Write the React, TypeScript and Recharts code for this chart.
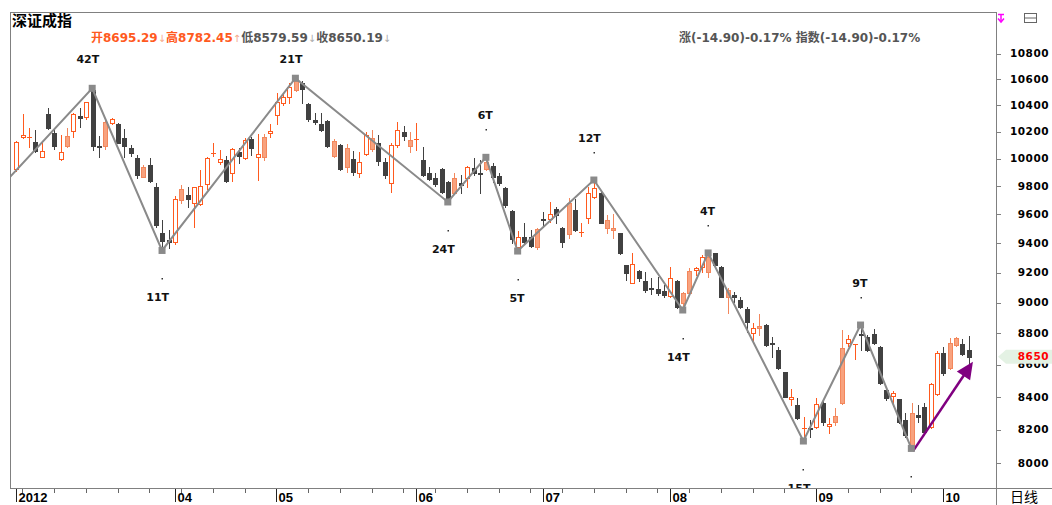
import React from 'react';
import { ComposedChart, Bar, Line, XAxis, YAxis, ReferenceLine } from 'recharts';

// ---------------- data ----------------
const opens = [
  9923, 10158, 10155, 10125, 10013, 10333, 10193, 9996, 10094, 10206,
  10320, 10308, 10516, 10096, 10094, 10263, 10258, 10151, 10077, 10004,
  9869, 9955, 9797, 9472, 9422, 9410, 9702, 9738, 9683, 9674,
  9816, 10040, 9976, 9991, 9894, 10052, 10004, 10143, 10016, 10011,
  10188, 10326, 10415, 10465, 10516, 10573, 10410, 10288, 10256, 10280,
  10021, 10101, 9942, 9996, 9894, 10035, 10069, 10113, 9979, 9821,
  10101, 10200, 10094, 10140, 9991, 9894, 9857, 9923, 9833, 9754,
  9821, 9857, 9930, 9898, 9923, 9947, 9874, 9791, 9626, 9372,
  9441, 9445, 9372, 9570, 9566, 9636, 9503, 9463, 9631, 9468,
  9573, 9721, 9754, 9503, 9491, 9468, 9251, 9132, 9212, 9145,
  9096, 9088, 9076, 9044, 9145, 8999, 9061, 9217, 9235, 9206,
  9331, 9240, 9039, 9050, 9017, 8956, 8799, 8832, 8853, 8735,
  8692, 8552, 8384, 8350, 8206, 8212, 8214, 8360, 8222, 8248,
  8360, 8735, 8726, 8795, 8774, 8793, 8709, 8441, 8404, 8384,
  8258, 8098, 8288, 8339, 8218, 8416, 8671, 8576, 8724, 8731,
  8695.29,
];
const highs = [
  10133, 10333, 10226, 10213, 10118, 10376, 10213, 10175, 10226, 10343,
  10376, 10427, 10529, 10170, 10293, 10301, 10263, 10220, 10101, 10028,
  9955, 10008, 9821, 9561, 9491, 9730, 9809, 9797, 9797, 9918,
  10011, 10113, 10064, 10021, 10077, 10077, 10151, 10158, 10183, 10183,
  10258, 10495, 10491, 10573, 10607, 10589, 10415, 10343, 10338, 10288,
  10143, 10108, 10108, 10059, 10052, 10200, 10213, 10175, 10004, 10113,
  10275, 10243, 10200, 10268, 10084, 9938, 9894, 9930, 9840, 9894,
  9882, 9947, 10004, 9991, 10010, 9969, 9896, 9798, 9631, 9486,
  9538, 9491, 9503, 9619, 9690, 9654, 9514, 9714, 9707, 9538,
  9797, 9845, 9761, 9596, 9603, 9472, 9251, 9331, 9217, 9206,
  9161, 9168, 9116, 9235, 9150, 9072, 9228, 9235, 9319, 9333,
  9333, 9244, 9094, 9072, 9035, 8972, 8864, 8925, 8860, 8778,
  8713, 8556, 8445, 8390, 8278, 8258, 8390, 8384, 8268, 8329,
  8821, 8788, 8731, 8853, 8788, 8826, 8718, 8445, 8437, 8388,
  8299, 8360, 8350, 8360, 8486, 8688, 8713, 8767, 8774, 8760,
  8782.45,
];
const lows = [
  9913, 10151, 10088, 10052, 10011, 10218, 10069, 9991, 10089, 10163,
  10233, 10295, 10064, 10011, 10074, 10258, 10113, 10011, 10021, 9857,
  9865, 9833, 9514, 9350, 9365, 9394, 9683, 9654, 9514, 9667,
  9778, 10021, 9962, 9833, 9840, 9967, 9996, 10028, 9845, 9991,
  10158, 10258, 10402, 10415, 10511, 10415, 10283, 10258, 10208, 10089,
  10011, 9918, 9906, 9882, 9869, 10028, 10059, 9955, 9857, 9761,
  10089, 10138, 10052, 10064, 9874, 9845, 9802, 9754, 9688, 9749,
  9754, 9797, 9882, 9754, 9918, 9833, 9809, 9654, 9404, 9346,
  9404, 9376, 9358, 9514, 9549, 9538, 9372, 9434, 9486, 9450,
  9542, 9714, 9538, 9472, 9434, 9326, 9150, 9128, 9145, 9072,
  9057, 9050, 9035, 9039, 8962, 8951, 9057, 9183, 9206, 9172,
  9244, 9035, 8930, 9006, 8962, 8810, 8735, 8788, 8718, 8650,
  8570, 8396, 8350, 8262, 8132, 8158, 8208, 8228, 8178, 8228,
  8356, 8718, 8633, 8692, 8688, 8731, 8478, 8380, 8343, 8242,
  8158, 8088, 8248, 8178, 8208, 8410, 8535, 8570, 8718, 8660,
  8579.59,
];
const closes = [
  10125, 10173, 10160, 10059, 10057, 10226, 10094, 10050, 10168, 10331,
  10301, 10423, 10094, 10089, 10275, 10293, 10118, 10094, 10040, 9882,
  9942, 9838, 9526, 9417, 9410, 9707, 9780, 9709, 9792, 9802,
  10004, 10045, 9996, 9840, 10069, 10021, 10138, 10077, 10035, 10158,
  10206, 10427, 10465, 10542, 10589, 10521, 10293, 10273, 10213, 10094,
  10133, 9923, 10077, 9906, 9976, 10175, 10151, 9986, 9882, 10101,
  10213, 10168, 10138, 10146, 9882, 9850, 9814, 9759, 9702, 9857,
  9809, 9942, 9898, 9889, 9979, 9867, 9826, 9667, 9427, 9441,
  9410, 9380, 9496, 9561, 9603, 9596, 9410, 9679, 9491, 9477,
  9749, 9785, 9542, 9561, 9507, 9331, 9195, 9256, 9161, 9083,
  9088, 9065, 9050, 9161, 8972, 9065, 9210, 9228, 9308, 9308,
  9251, 9039, 9083, 9035, 8972, 8875, 8832, 8847, 8724, 8729,
  8576, 8400, 8396, 8268, 8212, 8202, 8356, 8248, 8232, 8282,
  8703, 8760, 8731, 8788, 8692, 8735, 8482, 8390, 8424, 8248,
  8168, 8303, 8278, 8188, 8478, 8671, 8546, 8735, 8767, 8665.09,
  8650.19,
];
// rising candles drawn with a light filled body in the original
const filledUp = [8, 14, 20, 26, 39, 44, 50, 52, 56, 62, 69, 74, 82, 87, 93, 94, 105, 106, 109, 112, 117, 129, 130, 141, 147, 148];

const monthTicks = [0, 25, 41, 63, 83, 103, 126, 146];
const monthLabels = ['2012', '04', '05', '06', '07', '08', '09', '10'];
const priceTicks = [8000, 8200, 8400, 8600, 8800, 9000, 9200, 9400, 9600, 9800, 10000, 10200, 10400, 10600, 10800];

const pivotIdx = [12, 23, 44, 68, 74, 79, 91, 105, 109, 124, 133, 141];
const pivotSide = ['H', 'L', 'H', 'L', 'H', 'L', 'H', 'L', 'H', 'L', 'H', 'L'];
const pivotLabels = ['42T', '11T', '21T', '24T', '6T', '5T', '12T', '14T', '4T', '15T', '9T', ''];
const zigzagLeadIn = { i: -1, v: 9864 };

const arrowFrom = { i: 141.26, v: 8072 };
const arrowTo = { i: 150.7, v: 8618 };

// ---------------- layout / style ----------------
const CHART_W = 1052;
const CHART_H = 505;
const AXIS_X = 997;
const PLOT_BOTTOM = 488;
const UP = '#FF5A1E';
const UP_FILL = '#F8A27E';
const UP_FILL_EDGE = '#F3875C';
const DOWN = '#414141';
const ZZ = '#8A8A8A';
const PURPLE = '#800080';
const FRAME = '#808080';

const candles = opens.map((o, i) => ({
  i,
  o,
  h: highs[i],
  l: lows[i],
  c: closes[i],
  filled: filledUp.includes(i),
  range: [lows[i], highs[i]],
}));

const pivots = [
  { ...zigzagLeadIn, side: 'L', label: '', lead: true },
  ...pivotIdx.map((idx, k) => ({
    i: idx,
    v: pivotSide[k] === 'H' ? highs[idx] : lows[idx],
    side: pivotSide[k],
    label: pivotLabels[k],
    lead: false,
  })),
];

const n = closes.length;
const lastClose = closes[n - 1];
const prevClose = closes[n - 2];
const change = lastClose - prevClose;
const pct = (change / prevClose) * 100;
const minorTicks = Array.from({ length: 30 }, (_, k) => 1 + 5 * k);
const xTicks = Array.from(new Set([...monthTicks, ...minorTicks])).sort((a, b) => a - b);
const yTicks = [...priceTicks, lastClose];

function CandleShape(props: any) {
  const { x, y, width, height } = props;
  const d = props.payload ?? props;
  if (x == null || y == null || !d || d.h == null) return <g />;
  const yTop = Math.min(y, y + height);
  const span = Math.abs(height);
  const lh = Math.log(d.h);
  const ll = Math.log(d.l);
  const py = (v: number) => (lh - ll === 0 ? yTop : yTop + (span * (lh - Math.log(v))) / (lh - ll));
  const cx = Math.round(x + width / 2);
  const hi = Math.round(yTop);
  const lo = Math.round(yTop + span);
  const bTop = Math.round(py(Math.max(d.o, d.c)));
  const bBot = Math.round(py(Math.min(d.o, d.c)));
  const wx = cx + 0.5;
  const up = d.c >= d.o;
  if (!up) {
    return (
      <g>
        <line x1={wx} x2={wx} y1={hi} y2={lo + 1} stroke={DOWN} />
        <rect x={cx - 2} y={bTop} width={5} height={Math.max(1, bBot - bTop + 1)} fill={DOWN} />
      </g>
    );
  }
  const edge = d.filled ? UP_FILL_EDGE : UP;
  if (bBot - bTop < 2) {
    return (
      <g>
        <line x1={wx} x2={wx} y1={hi} y2={lo + 1} stroke={edge} />
        <rect x={cx - 2} y={bTop} width={5} height={1} fill={edge} />
      </g>
    );
  }
  return (
    <g>
      <line x1={wx} x2={wx} y1={hi} y2={bTop} stroke={edge} />
      <line x1={wx} x2={wx} y1={bBot} y2={lo + 1} stroke={edge} />
      <rect
        x={cx - 1.5}
        y={bTop + 0.5}
        width={4}
        height={bBot - bTop}
        fill={d.filled ? UP_FILL : '#FFFFFF'}
        stroke={edge}
        strokeWidth={1}
      />
    </g>
  );
}

function PivotDot(props: any) {
  const { cx, cy, payload, index } = props;
  if (cx == null || cy == null || !payload || payload.lead) return <g key={`pv-${index}`} />;
  const high = payload.side === 'H';
  const rawLabelY = high ? cy - 42 : cy + 47;
  const labelY = high ? Math.max(rawLabelY, 59) : rawLabelY;
  const clamped = labelY !== rawLabelY;
  const dotY = high ? cy - 28 : cy + 28;
  return (
    <g key={`pv-${index}`}>
      <rect x={cx - 3.5} y={cy - 3.5} width={7} height={7} fill={ZZ} />
      {!clamped && <rect x={Math.round(cx) - 0.5} y={Math.round(dotY)} width={1.5} height={1.5} fill="#333" />}
      {payload.label && (
        <text
          x={cx + 7}
          y={labelY + 4}
          textAnchor="end"
          fontFamily="'DejaVu Sans', Verdana, sans-serif"
          fontWeight="bold"
          fontSize={11}
          fill="#111"
        >
          {payload.label}
        </text>
      )}
    </g>
  );
}

function ArrowShape(props: any) {
  const { x1, y1, x2, y2 } = props;
  if ([x1, y1, x2, y2].some((v) => v == null || Number.isNaN(v))) return <g />;
  const dx = x2 - x1;
  const dy = y2 - y1;
  const len = Math.hypot(dx, dy) || 1;
  const ux = dx / len;
  const uy = dy / len;
  const hl = 17;
  const hw = 8;
  const bx = x2 - ux * hl;
  const by = y2 - uy * hl;
  const px = -uy;
  const pyy = ux;
  return (
    <g>
      <line x1={x1} y1={y1} x2={bx + ux * 2} y2={by + uy * 2} stroke={PURPLE} strokeWidth={2.5} />
      <polygon
        points={`${x2},${y2} ${bx + px * hw},${by + pyy * hw} ${bx - px * hw},${by - pyy * hw}`}
        fill={PURPLE}
      />
    </g>
  );
}

const tickFont = "'DejaVu Sans', Verdana, sans-serif";

function PriceTick(props: any) {
  const { y, payload } = props;
  const v = payload?.value;
  if (y == null || v == null) return <g />;
  if (v === lastClose) {
    return (
      <g>
        <polygon
          points={`${AXIS_X + 1},${y} ${AXIS_X + 9},${y - 7} ${CHART_W},${y - 7} ${CHART_W},${y + 7} ${AXIS_X + 9},${y + 7}`}
          fill="#E4F2E4"
        />
        <text
          x={1049}
          y={y + 3.8}
          textAnchor="end"
          fontFamily={tickFont}
          fontWeight="bold"
          fontSize={10.5}
          letterSpacing={0.5}
          fill="#FF0000"
        >
          {Math.round(v)}
        </text>
      </g>
    );
  }
  const ty = Math.round(y) + 0.5;
  return (
    <g>
      <line x1={AXIS_X} x2={AXIS_X + 4} y1={ty} y2={ty} stroke={FRAME} />
      <text
        x={1049}
        y={y + 3.8}
        textAnchor="end"
        fontFamily={tickFont}
        fontWeight="bold"
        fontSize={10.5}
        letterSpacing={0.5}
        fill="#000"
      >
        {v}
      </text>
    </g>
  );
}

function DateTick(props: any) {
  const { x, payload } = props;
  const v = payload?.value;
  if (x == null || v == null) return <g />;
  const k = monthTicks.indexOf(v);
  const px = Math.round(x) + 0.5;
  if (k >= 0) {
    return (
      <g>
        <line x1={px} x2={px} y1={PLOT_BOTTOM} y2={PLOT_BOTTOM + 14} stroke="#222" />
        <text
          x={px + 2}
          y={502}
          fontFamily="'Liberation Sans', Arial, sans-serif"
          fontWeight="bold"
          fontSize={13}
          fill="#000"
        >
          {monthLabels[k]}
        </text>
      </g>
    );
  }
  return <line x1={px} x2={px} y1={PLOT_BOTTOM} y2={PLOT_BOTTOM + 5} stroke="#666" />;
}

const fmt = (v: number) => v.toFixed(2);
const signed = (v: number) => (v >= 0 ? `+${v.toFixed(2)}` : v.toFixed(2));

export default function App() {
  const infoFont = "'DejaVu Sans', 'Noto Sans CJK SC', sans-serif";
  const orange = '#FF5A1E';
  const gray = '#555555';
  return (
    <div style={{ position: 'absolute', left: 0, top: 0, width: CHART_W, height: CHART_H, background: '#fff' }}>
      <ComposedChart
        width={CHART_W}
        height={CHART_H}
        data={candles}
        margin={{ top: 13, right: 0, bottom: 0, left: 10 }}
      >
        <XAxis
          dataKey="i"
          type="number"
          domain={[-0.945, 154.49]}
          allowDataOverflow
          ticks={xTicks}
          interval={0}
          height={17}
          axisLine={false}
          tickLine={false}
          tick={(p: any) => <DateTick {...p} />}
        />
        <YAxis
          orientation="right"
          type="number"
          scale="log"
          domain={[7857, 11126]}
          allowDataOverflow
          ticks={yTicks}
          interval={0}
          width={55}
          axisLine={false}
          tickLine={false}
          tick={(p: any) => <PriceTick {...p} />}
        />
        <Bar dataKey="range" barSize={5} isAnimationActive={false} shape={(p: any) => <CandleShape {...p} />} />
        <Line
          data={pivots}
          dataKey="v"
          type="linear"
          stroke={ZZ}
          strokeWidth={2}
          isAnimationActive={false}
          activeDot={false}
          dot={(p: any) => <PivotDot {...p} />}
        />
        <ReferenceLine
          segment={[
            { x: arrowFrom.i, y: arrowFrom.v },
            { x: arrowTo.i, y: arrowTo.v },
          ]}
          stroke={PURPLE}
          shape={(p: any) => <ArrowShape {...p} />}
        />
      </ComposedChart>
      <svg
        width={CHART_W}
        height={CHART_H}
        style={{ position: 'absolute', left: 0, top: 0, pointerEvents: 'none' }}
      >
        <line x1={10} x2={997} y1={12.5} y2={12.5} stroke={FRAME} />
        <line x1={10.5} x2={10.5} y1={12.5} y2={488} stroke={FRAME} />
        <line x1={10} x2={CHART_W} y1={488.5} y2={488.5} stroke={FRAME} />
        <line x1={996.5} x2={996.5} y1={12.5} y2={CHART_H} stroke={FRAME} />
        <text x={12} y={26} fontFamily="'Noto Sans CJK SC', sans-serif" fontWeight="bold" fontSize={15} fill="#000">
          深证成指
        </text>
        <text x={91} y={42} fontFamily={infoFont} fontWeight="bold" fontSize={12}>
          <tspan fill={orange}>开{fmt(opens[n - 1])}</tspan>
          <tspan fill="#F6A98A" fontWeight="normal" fontSize={10}>↓</tspan>
          <tspan fill={orange}>高{fmt(highs[n - 1])}</tspan>
          <tspan fill="#F6A98A" fontWeight="normal" fontSize={10}>↑</tspan>
          <tspan fill={gray}>低{fmt(lows[n - 1])}</tspan>
          <tspan fill="#AAAAAA" fontWeight="normal" fontSize={10}>↓</tspan>
          <tspan fill={gray}>收{fmt(lastClose)}</tspan>
          <tspan fill="#AAAAAA" fontWeight="normal" fontSize={10}>↓</tspan>
        </text>
        <text x={679} y={42} fontFamily={infoFont} fontWeight="bold" fontSize={12} fill={gray}>
          {`涨(${signed(change)})${pct.toFixed(2)}% 指数(${signed(change)})${pct.toFixed(2)}%`}
        </text>
        <g stroke="#FF00FF" strokeWidth={1.5} fill="none">
          <line x1={1001} x2={1001} y1={14} y2={22} />
          <line x1={998} x2={1004} y1={14.5} y2={14.5} />
          <polyline points="998,18.5 1001,22 1004,18.5" />
        </g>
        <rect x={1024.5} y={13.5} width={12} height={9} stroke="#666" fill="none" />
        <line x1={1024.5} x2={1036.5} y1={18} y2={18} stroke="#666" />
        <text x={1010} y={502} fontFamily="'Noto Sans CJK SC', sans-serif" fontSize={14} fill="#000">
          日线
        </text>
      </svg>
    </div>
  );
}
